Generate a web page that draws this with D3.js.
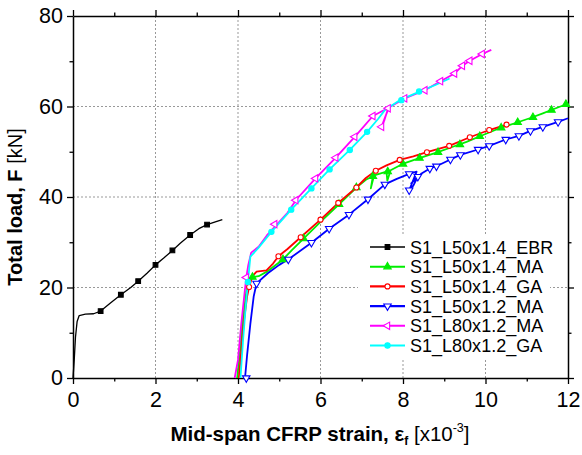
<!DOCTYPE html>
<html>
<head>
<meta charset="utf-8">
<script src="https://cdn.jsdelivr.net/npm/d3@7"></script>
<style>
  body { margin: 0; background: #fff; }
  svg, svg text { font-family: "Liberation Sans", Arial, sans-serif; }
</style>
</head>
<body>
<div id="chart"></div>
<script>
// datos: [deformacion x10^-3, carga kN]
const xTicks = [0, 2, 4, 6, 8, 10, 12];
const yTicks = [0, 20, 40, 60, 80];
const xMinor = [1, 3, 5, 7, 9, 11];
const yMinor = [10, 30, 50, 70];

const nombres = ["S1_L50x1.4_EBR", "S1_L50x1.4_MA", "S1_L50x1.4_GA", "S1_L50x1.2_MA", "S1_L80x1.2_MA", "S1_L80x1.2_GA"];
const colores = ["#000000", "#00ee00", "#ff0000", "#0000ff", "#ff00ff", "#00ffff"];

const ebr = [[0,0],[0.03,4],[0.06,9],[0.1,12.5],[0.15,13.8],[0.3,14.1],[0.5,14.2],[0.67,14.8],[0.9,16.5],[1.16,18.4],[1.4,20],[1.58,21.4],[1.8,23.2],[2.0,25.0],[2.2,26.5],[2.41,28.2],[2.6,29.8],[2.84,31.6],[3.05,33],[3.25,33.9],[3.45,34.5],[3.62,35.0]];
const ebrMk = [[0.67,14.8],[1.16,18.4],[1.58,21.4],[2.0,25.0],[2.41,28.2],[2.84,31.6],[3.25,33.9]];

const ma14 = [[3.98,0],[4.05,6],[4.12,13],[4.2,19],[4.28,21.5],[4.36,22.3],[4.5,22.5],[4.7,23.5],[5.09,26.2],[5.3,28.2],[5.59,30.8],[6.0,34.5],[6.45,38.4],[6.87,42.1],[7.1,43.8],[7.27,44.6],[7.22,41.9],[7.3,44.8],[7.6,45.6],[7.62,43.6],[7.7,45.9],[7.99,47.3],[8.36,48.5],[8.81,49.8],[9.21,51.1],[9.54,52.2],[9.94,53.7],[10.34,55.2],[10.71,56.3],[11.07,57.4],[11.39,58.5],[11.64,59.4],[11.96,60.5]];
const ma14Mk = [[4.35,22.3],[5.09,26.2],[5.59,30.8],[6.45,38.4],[6.87,42.1],[7.27,44.6],[7.63,45.6],[8.0,47.3],[8.4,48.6],[8.85,49.9],[9.38,51.6],[9.86,53.4],[10.38,55.3],[10.78,56.5],[11.15,57.6],[11.6,59.2],[11.95,60.5]];

const ga14 = [[4.02,0],[4.08,6],[4.15,13],[4.22,18],[4.27,20.1],[4.35,22.5],[4.45,23.5],[4.69,23.8],[4.85,25.3],[4.98,26.9],[5.2,28.5],[5.52,31.1],[6.0,35],[6.43,38.7],[6.87,42.1],[7.1,44.2],[7.34,45.8],[7.6,47.0],[7.92,48.2],[8.25,49.0],[8.58,49.9],[9.12,51.3],[9.62,53.2],[10.09,54.8],[10.51,56.0]];
const ga14Mk = [[4.27,20.1],[4.98,26.9],[5.52,31.1],[6.0,35],[6.43,38.7],[6.87,42.1],[7.34,45.8],[7.92,48.2],[8.58,49.9],[9.12,51.3],[9.62,53.2],[10.09,54.8],[10.51,56.0]];

const ma12 = [[4.17,0],[4.22,5],[4.3,12],[4.38,18],[4.45,20.9],[4.73,23.2],[5.0,25],[5.25,26.4],[5.78,29.9],[6.21,33.0],[6.69,36.1],[7.15,39.5],[7.56,42.8],[7.85,44.0],[8.15,45.1],[8.33,45.6],[8.15,41.5],[8.25,42.5],[8.36,44.5],[8.2,43],[8.45,45.2],[8.65,46.3],[8.81,46.8],[9.15,48.3],[9.39,49.3],[9.82,50.5],[10.09,51.3],[10.49,52.7],[10.81,53.5],[11.09,54.6],[11.39,55.5],[11.76,56.6],[12.0,57.4]];
const ma12Mk = [[4.2,0],[4.45,20.9],[5.22,26.2],[5.78,29.9],[6.21,33.0],[6.69,36.1],[7.15,39.5],[7.56,42.8],[8.15,45.1],[8.15,41.5],[8.36,44.5],[8.65,46.3],[8.81,46.8],[9.15,48.3],[9.39,49.3],[9.82,50.5],[10.09,51.3],[10.49,52.7],[10.81,53.5],[11.09,54.6],[11.39,55.5],[11.76,56.6]];

const ma80 = [[3.92,0],[4.0,4],[4.08,12],[4.15,18],[4.2,22.2],[4.25,25],[4.32,27.7],[4.5,29],[4.7,31.5],[4.93,33.8],[5.2,36.5],[5.42,39.5],[5.88,44.1],[6.37,48.7],[6.83,53.3],[7.27,57.9],[7.5,59.0],[7.64,59.6],[7.55,57],[7.48,55.5],[7.56,57.5],[7.66,59.8],[8.04,61.8],[8.53,63.6],[8.91,65.6],[9.25,67.3],[9.44,69.0],[9.62,70.1],[9.92,71.6],[10.14,72.5]];
const ma80Mk = [[4.2,22.2],[4.89,34.0],[5.4,39.3],[5.88,44.1],[6.37,48.7],[6.83,53.3],[7.27,57.9],[7.48,55.5],[7.64,59.6],[8.04,61.8],[8.53,63.6],[8.91,65.6],[9.25,67.3],[9.44,69.0],[9.62,70.1],[9.92,71.6]];

const ga80 = [[4.06,0],[4.12,8],[4.18,15],[4.24,21.2],[4.3,26.8],[4.5,28.8],[4.81,32.3],[5.29,37.2],[5.78,41.9],[6.22,46.1],[6.71,50.4],[7.13,54.4],[7.4,57.3],[7.56,59.2],[7.92,61.4],[8.4,63.3],[8.8,64.8],[9.13,66.2]];
const ga80Mk = [[4.24,21.2],[4.81,32.3],[5.29,37.2],[5.78,41.9],[6.22,46.1],[6.71,50.4],[7.13,54.4],[7.96,61.4],[8.39,63.3]];

const series = [
  { nombre: nombres[0], color: colores[0], pts: ebr, mk: ebrMk, simbolo: d3.symbolSquare, rot: 0, relleno: true, ancho: 1.3, tam: 22 },
  { nombre: nombres[1], color: colores[1], pts: ma14, mk: ma14Mk, simbolo: d3.symbolTriangle, rot: 0, relleno: true, ancho: 1.8, tam: 24 },
  { nombre: nombres[2], color: colores[2], pts: ga14, mk: ga14Mk, simbolo: d3.symbolCircle, rot: 0, relleno: false, ancho: 1.8, tam: 20 },
  { nombre: nombres[3], color: colores[3], pts: ma12, mk: ma12Mk, simbolo: d3.symbolTriangle, rot: 180, relleno: false, ancho: 1.8, tam: 24 },
  { nombre: nombres[4], color: colores[4], pts: ma80, mk: ma80Mk, simbolo: d3.symbolTriangle, rot: -90, relleno: false, ancho: 1.8, tam: 24 },
  { nombre: nombres[5], color: colores[5], pts: ga80, mk: ga80Mk, simbolo: d3.symbolCircle, rot: 0, relleno: true, ancho: 1.8, tam: 22 }
];

const fuente = '"Liberation Sans", Arial, sans-serif';
const width = 582, height = 455;
const margin = { top: 16, right: 14, bottom: 77, left: 73 };
const w = width - margin.left - margin.right;
const h = height - margin.top - margin.bottom;

const svg = d3.select('#chart').append('svg')
  .attr('width', width).attr('height', height);
const g = svg.append('g').attr('transform', `translate(${margin.left},${margin.top})`);

const x = d3.scaleLinear().domain([0, 12]).range([0, w]);
const y = d3.scaleLinear().domain([0, 80]).range([h, 0]);

// rejilla punteada
g.append('g').selectAll('line').data(xTicks.filter(d => d > 0 && d < 12)).enter().append('line')
  .attr('x1', d => x(d)).attr('x2', d => x(d)).attr('y1', 0).attr('y2', h)
  .attr('stroke', '#999').attr('stroke-width', 1).attr('stroke-dasharray', '2,2');
g.append('g').selectAll('line').data(yTicks.filter(d => d > 0 && d < 80)).enter().append('line')
  .attr('y1', d => y(d)).attr('y2', d => y(d)).attr('x1', 0).attr('x2', w)
  .attr('stroke', '#999').attr('stroke-width', 1).attr('stroke-dasharray', '2,2');

// ejes
function estilo(sel) {
  sel.attr('font-family', fuente).attr('font-size', 21.5);
  sel.select('.domain').attr('stroke', '#000').attr('stroke-width', 1.5);
  sel.selectAll('.tick line').attr('stroke', '#000').attr('stroke-width', 1.3);
  sel.selectAll('.tick text').attr('fill', '#000');
}
g.append('g').attr('transform', `translate(0,${h})`)
  .call(d3.axisBottom(x).tickValues(xTicks).tickSize(6).tickSizeOuter(0).tickPadding(8)).call(estilo);
g.append('g').attr('transform', `translate(0,${h})`)
  .call(d3.axisBottom(x).tickValues(xMinor).tickSize(3.5).tickFormat('')).call(estilo)
  .select('.domain').remove();
g.append('g').call(d3.axisLeft(y).tickValues(yTicks).tickSize(6).tickSizeOuter(0).tickPadding(4)).call(estilo);
g.append('g').call(d3.axisLeft(y).tickValues(yMinor).tickSize(3.5).tickFormat('')).call(estilo)
  .select('.domain').remove();
g.append('g').call(d3.axisTop(x).tickValues(xTicks).tickSize(6).tickSizeOuter(0).tickFormat('')).call(estilo);
g.append('g').call(d3.axisTop(x).tickValues(xMinor).tickSize(3.5).tickFormat('')).call(estilo)
  .select('.domain').remove();
g.append('g').attr('transform', `translate(${w},0)`)
  .call(d3.axisRight(y).tickValues(yTicks).tickSize(6).tickSizeOuter(0).tickFormat('')).call(estilo);
g.append('g').attr('transform', `translate(${w},0)`)
  .call(d3.axisRight(y).tickValues(yMinor).tickSize(3.5).tickFormat('')).call(estilo)
  .select('.domain').remove();

// curvas
const linea = d3.line().x(d => x(d[0])).y(d => y(d[1]));
series.forEach(s => {
  g.append('path').datum(s.pts)
    .attr('d', linea).attr('fill', 'none')
    .attr('stroke', s.color).attr('stroke-width', s.ancho).attr('stroke-linejoin', 'round');
});
series.forEach(s => {
  const sym = d3.symbol().type(s.simbolo).size(s.tam);
  g.append('g').selectAll('path').data(s.mk).enter().append('path')
    .attr('d', sym)
    .attr('transform', d => `translate(${x(d[0])},${y(d[1])}) rotate(${s.rot})`)
    .attr('fill', s.relleno ? s.color : '#fff')
    .attr('stroke', s.color).attr('stroke-width', 1.1);
});

// leyenda (texto algo estirado en horizontal para igualar el ancho del original)
const ley = svg.append('g').attr('transform', 'translate(358,235)');
ley.append('rect').attr('x', 0).attr('y', 0).attr('width', 192).attr('height', 124).attr('fill', '#fff');
series.forEach((s, i) => {
  const yy = 12 + i * 19.7;
  ley.append('line').attr('x1', 12).attr('x2', 47).attr('y1', yy).attr('y2', yy)
    .attr('stroke', s.color).attr('stroke-width', s.ancho + 0.3);
  ley.append('path').attr('d', d3.symbol().type(s.simbolo).size(s.tam)())
    .attr('transform', `translate(29.5,${yy}) rotate(${s.rot})`)
    .attr('fill', s.relleno ? s.color : '#fff')
    .attr('stroke', s.color).attr('stroke-width', 1.1);
  ley.append('text').attr('transform', `translate(52,${yy}) scale(1.06,1.08)`)
    .attr('dy', '0.36em')
    .attr('font-size', 17).attr('fill', '#000').text(s.nombre);
});

// titulos de ejes
const tx = svg.append('text').attr('x', 320).attr('y', 441).attr('text-anchor', 'middle')
  .attr('font-size', 20.5).attr('fill', '#000');
tx.append('tspan').attr('font-weight', 'bold').text('Mid-span CFRP strain, ε');
tx.append('tspan').attr('font-weight', 'bold').attr('font-size', 12).attr('dy', 4).text('f');
tx.append('tspan').attr('dy', -4).text(' [x10');
tx.append('tspan').attr('font-size', 12.5).attr('dy', -9).text('-3');
tx.append('tspan').attr('dy', 9).text(']');

const ty = svg.append('text').attr('transform', 'translate(22,207) rotate(-90)')
  .attr('text-anchor', 'middle').attr('font-size', 20).attr('fill', '#000');
ty.append('tspan').attr('font-weight', 'bold').text('Total load, F ');
ty.append('tspan').text('[kN]');
</script>
</body>
</html>
